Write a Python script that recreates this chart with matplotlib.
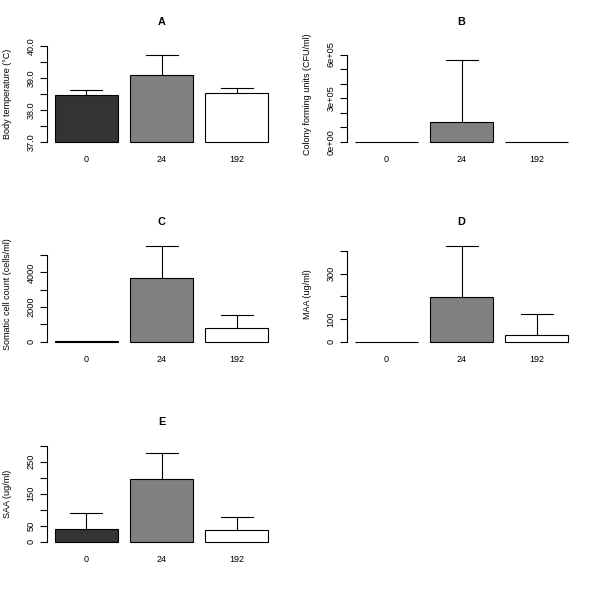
import matplotlib
matplotlib.use("Agg")
import matplotlib.pyplot as plt

plt.rcParams["font.family"] = ["Liberation Sans", "DejaVu Sans"]

# time points (h) and bar fills
groups = ["0", "24", "192"]
fills = ["#333333", "#808080", "#ffffff"]

# panel A: body temperature
temp_mean = [38.46, 39.10, 38.51]
temp_err = [0.15, 0.60, 0.16]

# panel B: colony forming units
cfu_mean = [0, 137000, 0]
cfu_err = [0, 422000, 0]

# panel C: somatic cell count
scc_mean = [30, 3692, 773]
scc_err = [0, 1848, 750]

# panel D: MAA
maa_mean = [0.5, 198, 29.5]
maa_err = [0, 226, 91.5]

# panel E: SAA
saa_mean = [40.9, 195, 36.7]
saa_err = [49.2, 81.7, 40.9]

panels = [
    {"title": "A", "ylabel": "Body temperature (°C)", "mean": temp_mean, "err": temp_err,
     "base": 37.0, "top": 40.0,
     "ticks": [37.0, 37.5, 38.0, 38.5, 39.0, 39.5, 40.0],
     "labels": ["37.0", "", "38.0", "", "39.0", "", "40.0"]},
    {"title": "B", "ylabel": "Colony forming units (CFU/ml)", "mean": cfu_mean, "err": cfu_err,
     "base": 0, "top": 660000,
     "ticks": [0, 100000, 200000, 300000, 400000, 500000, 600000],
     "labels": ["0e+00", "", "", "3e+05", "", "", "6e+05"]},
    {"title": "C", "ylabel": "Somatic cell count (cells/ml)", "mean": scc_mean, "err": scc_err,
     "base": 0, "top": 5532,
     "ticks": [0, 1000, 2000, 3000, 4000, 5000],
     "labels": ["0", "", "2000", "", "4000", ""]},
    {"title": "D", "ylabel": "MAA (ug/ml)", "mean": maa_mean, "err": maa_err,
     "base": 0, "top": 423,
     "ticks": [0, 100, 200, 300, 400],
     "labels": ["0", "100", "", "300", ""]},
    {"title": "E", "ylabel": "SAA (ug/ml)", "mean": saa_mean, "err": saa_err,
     "base": 0, "top": 300,
     "ticks": [0, 50, 100, 150, 200, 250, 300],
     "labels": ["0", "50", "", "150", "", "250", ""]},
]

W, H = 600, 599
fig = plt.figure(figsize=(W / 100, H / 100), dpi=100)

col_left = [46.5, 346.5]
row_top = [42, 242, 442]
ax_w, ax_h = 230.2, 103.5

centers = [0.7, 1.9, 3.1]

for i, p in enumerate(panels):
    r, c = divmod(i, 2)
    left = col_left[c] / W
    bottom = 1 - (row_top[r] + ax_h) / H
    ax = fig.add_axes([left, bottom, ax_w / W, ax_h / H])

    base = p["base"]
    span = p["top"] - base
    ax.set_xlim(0.064, 3.736)
    ax.set_ylim(base - 0.04 * span, p["top"] + 0.04 * span)

    heights = [m - base for m in p["mean"]]
    ax.bar(centers, heights, width=1.0, bottom=base, color=fills,
           edgecolor="black", linewidth=0.8, zorder=2)

    # upper error bars only, skip zero-length ones like R's arrows()
    for x, m, e in zip(centers, p["mean"], p["err"]):
        if e <= 0:
            continue
        ax.plot([x, x], [m, m + e], color="black", lw=0.8, zorder=3)
        ax.plot([x - 0.255, x + 0.255], [m + e, m + e], color="black", lw=0.8, zorder=3)

    for s in ["top", "right", "bottom"]:
        ax.spines[s].set_visible(False)
    ax.spines["left"].set_linewidth(0.8)
    ax.spines["left"].set_bounds(p["ticks"][0], p["ticks"][-1])

    ax.set_yticks(p["ticks"])
    ax.set_yticklabels(p["labels"], rotation=90, va="center")
    ax.tick_params(axis="y", length=5, width=0.8, pad=3, labelsize=6.6)

    ax.set_xticks(centers)
    ax.set_xticklabels(groups)
    ax.tick_params(axis="x", length=0, pad=7, labelsize=6.5)

    ax.set_ylabel(p["ylabel"], fontsize=6.5)
    ax.yaxis.set_label_coords(-0.15, 0.5)

    ax.text(0.5, 1.196, p["title"], transform=ax.transAxes, ha="center",
            va="center", fontsize=7.8, fontweight="bold")

fig.savefig("out.png", dpi=100)
